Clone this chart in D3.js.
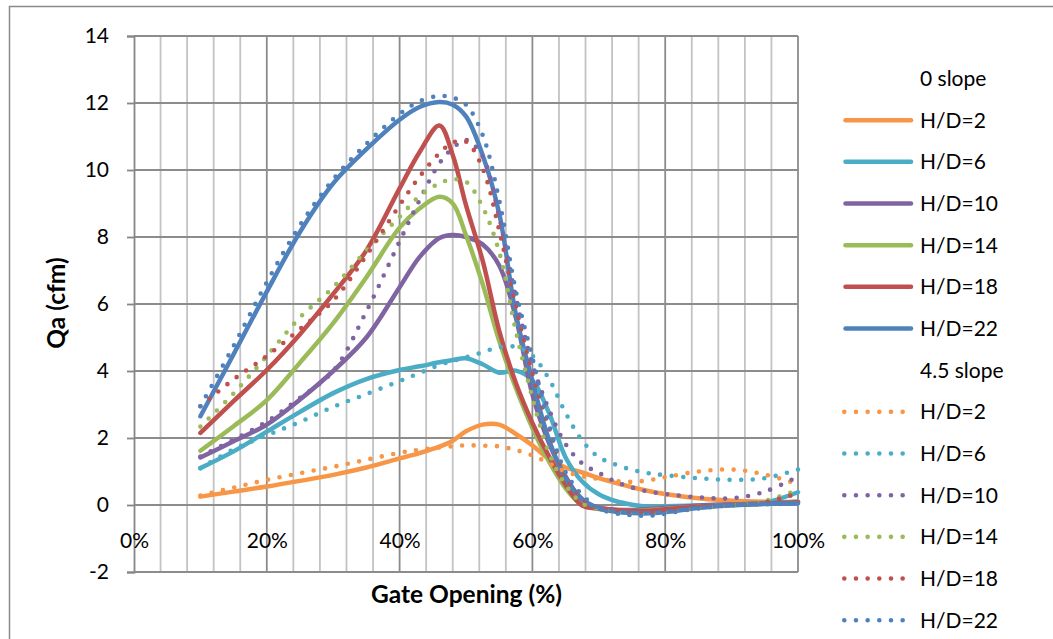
<!DOCTYPE html>
<html>
<head>
<meta charset="utf-8">
<script src="https://cdn.jsdelivr.net/npm/d3@7"></script>
<style>
  html, body { margin: 0; padding: 0; background: #ffffff; }
  svg { display: block; font-family: Lato, "Open Sans", sans-serif; }
</style>
</head>
<body>
<svg id="chart" width="1053" height="639"></svg>
<script>
// Gate opening (%) at which air demand was recorded
const gateOpening = [10, 15, 20, 25, 30, 35, 40, 43, 46, 48, 50, 52.5, 55, 57.5, 60, 62.5, 65, 67.5, 70, 72.5, 75, 77.5, 80, 85, 90, 95, 100];

// Air demand Qa (cfm), 0 slope conduit
const flatHD2  = [0.25, 0.40, 0.55, 0.72, 0.90, 1.12, 1.39, 1.55, 1.74, 1.92, 2.20, 2.40, 2.40, 2.12, 1.78, 1.37, 1.12, 0.97, 0.80, 0.66, 0.53, 0.42, 0.33, 0.20, 0.13, 0.10, 0.09];
const flatHD6  = [1.10, 1.60, 2.19, 2.78, 3.34, 3.76, 4.03, 4.14, 4.26, 4.33, 4.38, 4.20, 3.95, 4.01, 3.72, 2.75, 1.42, 0.70, 0.32, 0.12, 0.01, -0.05, -0.04, -0.01, 0.02, 0.07, 0.38];
const flatHD10 = [1.42, 1.90, 2.40, 3.15, 4.00, 5.00, 6.50, 7.40, 7.97, 8.06, 8.00, 7.78, 7.15, 5.60, 3.30, 1.85, 0.85, 0.15, -0.08, -0.14, -0.15, -0.12, -0.08, -0.02, 0.02, 0.05, 0.10];
const flatHD14 = [1.62, 2.35, 3.13, 4.25, 5.43, 6.80, 8.28, 8.85, 9.20, 9.00, 8.05, 6.60, 4.90, 3.50, 2.30, 1.30, 0.50, 0.00, -0.12, -0.17, -0.18, -0.15, -0.12, -0.05, 0.00, 0.04, 0.10];
const flatHD18 = [2.15, 3.10, 4.03, 5.10, 6.30, 7.60, 9.45, 10.53, 11.33, 10.45, 8.95, 7.30, 5.20, 3.65, 2.45, 1.45, 0.60, -0.02, -0.10, -0.15, -0.18, -0.17, -0.13, -0.05, 0.00, 0.04, 0.08];
const flatHD22 = [2.65, 4.50, 6.37, 8.15, 9.60, 10.62, 11.50, 11.88, 12.03, 11.95, 11.60, 10.45, 8.70, 5.70, 3.70, 1.95, 0.80, 0.18, -0.10, -0.20, -0.24, -0.25, -0.21, -0.09, -0.01, 0.03, 0.05];

// Air demand Qa (cfm), 4.5 slope conduit
const slopeHD2  = [0.28, 0.52, 0.75, 0.95, 1.14, 1.35, 1.56, 1.65, 1.72, 1.75, 1.78, 1.77, 1.75, 1.64, 1.48, 1.25, 1.00, 0.86, 0.78, 0.72, 0.69, 0.74, 0.83, 1.00, 1.06, 0.91, 0.62];
const slopeHD6  = [1.10, 1.66, 2.08, 2.48, 2.93, 3.31, 3.70, 3.94, 4.18, 4.30, 4.41, 4.56, 4.71, 4.72, 4.46, 3.76, 2.75, 1.92, 1.43, 1.21, 1.05, 0.95, 0.89, 0.80, 0.75, 0.80, 1.06];
const slopeHD10 = [1.45, 1.95, 2.49, 3.20, 4.00, 5.78, 7.87, 9.10, 10.20, 10.65, 10.90, 10.40, 8.60, 6.20, 4.20, 2.85, 1.82, 1.24, 0.96, 0.70, 0.52, 0.40, 0.33, 0.23, 0.20, 0.40, 0.85];
const slopeHD14 = [2.34, 3.33, 4.45, 5.60, 6.50, 7.60, 8.60, 9.22, 9.60, 9.72, 9.65, 8.90, 7.55, 5.20, 3.20, 1.55, 0.60, 0.05, -0.12, -0.22, -0.28, -0.28, -0.22, -0.10, 0.00, 0.12, 0.45];
const slopeHD18 = [2.95, 3.75, 4.45, 5.25, 6.10, 7.45, 8.95, 9.80, 10.50, 10.82, 10.85, 10.05, 8.20, 5.95, 3.92, 2.30, 0.85, 0.20, -0.10, -0.20, -0.25, -0.25, -0.20, -0.08, 0.00, 0.08, 0.35];
const slopeHD22 = [2.95, 4.75, 6.65, 8.35, 9.72, 10.78, 11.67, 12.05, 12.21, 12.16, 11.95, 11.05, 9.10, 6.40, 4.40, 2.40, 0.98, 0.30, -0.10, -0.25, -0.30, -0.32, -0.26, -0.10, -0.01, 0.02, 0.05];

const seriesLabels = ["H/D=2", "H/D=6", "H/D=10", "H/D=14", "H/D=18", "H/D=22"];
const groupTitles = ["0 slope", "4.5 slope"];
const xTickValues = [0, 20, 40, 60, 80, 100];
const yTickValues = [-2, 0, 2, 4, 6, 8, 10, 12, 14];

const flatSeries = [flatHD2, flatHD6, flatHD10, flatHD14, flatHD18, flatHD22];
const slopeSeries = [slopeHD2, slopeHD6, slopeHD10, slopeHD14, slopeHD18, slopeHD22];
const palette = ["#F79646", "#4BACC6", "#8064A2", "#9BBB59", "#C0504D", "#4F81BD"];

const svg = d3.select("#chart");
const plot = { left: 134, right: 798, top: 36, bottom: 572 };

const x = d3.scaleLinear().domain([0, 100]).range([plot.left, plot.right]);
const y = d3.scaleLinear().domain([-2, 14]).range([plot.bottom, plot.top]);

// chart frame
svg.append("rect")
  .attr("x", 9.5).attr("y", 6.5)
  .attr("width", 1100).attr("height", 700)
  .attr("fill", "#ffffff")
  .attr("stroke", "#8a8a8a").attr("stroke-width", 1.5);

// vertical gridlines: minor every 4 %, major every 20 %
const grid = svg.append("g");
grid.selectAll("line.vminor")
  .data(d3.range(4, 100, 4).filter(v => v % 20 !== 0))
  .join("line")
  .attr("x1", d => x(d)).attr("x2", d => x(d))
  .attr("y1", plot.top).attr("y2", plot.bottom)
  .attr("stroke", "#c3c3c3").attr("stroke-width", 1.8);
grid.selectAll("line.vmajor")
  .data(xTickValues.filter(v => v > 0))
  .join("line")
  .attr("x1", d => x(d)).attr("x2", d => x(d))
  .attr("y1", plot.top).attr("y2", plot.bottom)
  .attr("stroke", "#8c8c8c").attr("stroke-width", 1.8);

// horizontal gridlines
grid.selectAll("line.h")
  .data(yTickValues)
  .join("line")
  .attr("x1", plot.left).attr("x2", plot.right)
  .attr("y1", d => y(d)).attr("y2", d => y(d))
  .attr("stroke", "#8c8c8c").attr("stroke-width", 1.8);

// y axis with outward ticks
const yAxis = d3.axisLeft(y).tickValues(yTickValues).tickSize(7).tickPadding(18)
  .tickFormat(d => String(d));
const yg = svg.append("g").attr("transform", `translate(${plot.left},0)`).call(yAxis);
yg.select(".domain").attr("stroke", "#868686").attr("stroke-width", 1.8);
yg.selectAll(".tick line").attr("stroke", "#868686").attr("stroke-width", 1.8);
yg.selectAll(".tick text")
  .attr("font-family", "Lato, 'Open Sans', sans-serif")
  .attr("font-size", 21).attr("fill", "#000");

// x axis labels sit below the zero line
const xAxis = d3.axisBottom(x).tickValues(xTickValues).tickSize(0).tickPadding(28)
  .tickFormat(d => d + "%");
const xg = svg.append("g").attr("transform", `translate(0,${y(0)})`).call(xAxis);
xg.select(".domain").remove();
xg.selectAll(".tick text")
  .attr("font-family", "Lato, 'Open Sans', sans-serif")
  .attr("font-size", 21).attr("fill", "#000");

// axis titles
svg.append("text")
  .attr("x", 466.5).attr("y", 603)
  .attr("text-anchor", "middle")
  .attr("font-size", 24.5).attr("font-weight", "bold")
  .text("Gate Opening (%)");
svg.append("text")
  .attr("transform", "translate(65,303) rotate(-90)")
  .attr("text-anchor", "middle")
  .attr("font-size", 24.5).attr("font-weight", "bold")
  .text("Qa (cfm)");

// smoothed series lines
const line = d3.line()
  .x(d => x(d[0]))
  .y(d => y(d[1]))
  .curve(d3.curveCatmullRom.alpha(0.5));

const toPoints = values => gateOpening.map((g, i) => [g, values[i]]);

const lines = svg.append("g").attr("fill", "none");
lines.selectAll("path.flat")
  .data(flatSeries)
  .join("path")
  .attr("d", d => line(toPoints(d)))
  .attr("stroke", (d, i) => palette[i])
  .attr("stroke-width", 4.5)
  .attr("stroke-linecap", "round")
  .attr("stroke-linejoin", "round");
lines.selectAll("path.slope")
  .data(slopeSeries)
  .join("path")
  .attr("d", d => line(toPoints(d)))
  .attr("stroke", (d, i) => palette[i])
  .attr("stroke-width", 4.6)
  .attr("stroke-linecap", "round")
  .attr("stroke-dasharray", "0 11.6");

// legend
const legendTop = 78.5, legendStep = 41.67;
const legend = svg.append("g").attr("font-size", 21).attr("fill", "#000");
const rows = [];
groupTitles.forEach((title, g) => {
  rows.push({ title: title });
  seriesLabels.forEach((lab, i) => rows.push({ label: lab, color: palette[i], dotted: g === 1 }));
});
rows.forEach((r, k) => {
  const cy = legendTop + legendStep * k;
  if (r.title) {
    legend.append("text").attr("x", 920).attr("y", cy).attr("dy", "0.35em").text(r.title);
    return;
  }
  if (r.dotted) {
    legend.append("line")
      .attr("x1", 844.3).attr("x2", 903).attr("y1", cy).attr("y2", cy)
      .attr("stroke", r.color).attr("stroke-width", 4.6)
      .attr("stroke-linecap", "round").attr("stroke-dasharray", "0 11.67");
  } else {
    legend.append("line")
      .attr("x1", 845.5).attr("x2", 911).attr("y1", cy).attr("y2", cy)
      .attr("stroke", r.color).attr("stroke-width", 4.5)
      .attr("stroke-linecap", "round");
  }
  legend.append("text").attr("x", 920).attr("y", cy).attr("dy", "0.35em").text(r.label);
});
</script>
</body>
</html>
